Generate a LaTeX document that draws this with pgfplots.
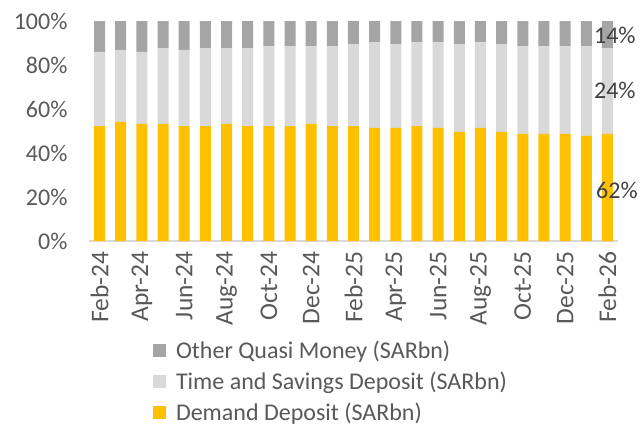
\documentclass[border=0pt]{standalone}
\usepackage{pgfplots}
\pgfplotsset{compat=1.18}
\usepackage{fontspec}
\setmainfont{Carlito}
\definecolor{dd}{HTML}{FFC000}
\definecolor{ts}{HTML}{D9D9D9}
\definecolor{oq}{HTML}{A5A5A5}
\definecolor{tick}{HTML}{595959}
\definecolor{lab}{HTML}{404040}
\begin{document}
\begin{tikzpicture}
\path[use as bounding box] (-89pt,-185pt) rectangle (552pt,241pt);
\begin{axis}[
  scale only axis, width=529pt, height=220pt,
  ybar stacked, bar width=11pt,
  xmin=-0.5, xmax=24.5, ymin=0, ymax=100,
  xtick={0,2,...,24},
  xticklabels={Feb-24,Apr-24,Jun-24,Aug-24,Oct-24,Dec-24,Feb-25,Apr-25,Jun-25,Aug-25,Oct-25,Dec-25,Feb-26},
  x tick label style={rotate=90, anchor=east, font=\fontsize{25.5}{28}\selectfont, text=tick, xshift=-7pt},
  ytick={0,20,...,100},
  yticklabel={\pgfmathprintnumber{\tick}\%},
  y tick label style={font=\fontsize{24}{27}\selectfont, text=tick},
  /pgf/number format/assume math mode=true,
  axis y line*=left,
  y axis line style={draw=none},
  axis x line*=bottom,
  x axis line style={draw=ts, line width=1.5pt, -},
  major tick length=0pt,
  xtick style={draw=none}, ytick style={draw=none},
  yticklabel style={xshift=-18pt},
  reverse legend,
  legend style={at={(0.115,-0.436)}, anchor=north west, draw=none,
    font=\fontsize{24}{27}\selectfont, text=tick, row sep=8pt,
    /tikz/every even column/.append style={column sep=4pt}},
  legend cell align=left,
  legend image code/.code={\fill[#1] (0pt,-6pt) rectangle (13pt,7pt);},
  clip=false,
]
\addplot+[fill=dd, draw=none] coordinates {
(0,52.2)(1,54.1)(2,53.2)(3,53.2)(4,52.2)(5,52.2)(6,53.2)(7,52.2)(8,52.2)(9,52.2)(10,53.2)(11,52.2)(12,52.2)
(13,51.4)(14,51.4)(15,52.2)(16,51.4)(17,49.6)(18,51.4)(19,49.6)(20,48.7)(21,48.7)(22,48.7)(23,47.8)(24,48.7)};
\addlegendentry{\hspace{8pt}Demand Deposit (SARbn)}
\addplot+[fill=ts, draw=none] coordinates {
(0,33.8)(1,32.8)(2,32.8)(3,34.4)(4,34.7)(5,35.4)(6,34.4)(7,35.4)(8,36.3)(9,36.3)(10,35.3)(11,36.3)(12,37.2)
(13,38.9)(14,38.0)(15,38.1)(16,38.9)(17,39.8)(18,38.9)(19,39.8)(20,39.8)(21,39.8)(22,39.8)(23,40.7)(24,38.9)};
\addlegendentry{\hspace{8pt}Time and Savings Deposit (SARbn)}
\addplot+[fill=oq, draw=none] coordinates {
(0,14.0)(1,13.1)(2,14.0)(3,12.4)(4,13.1)(5,12.4)(6,12.4)(7,12.4)(8,11.5)(9,11.5)(10,11.5)(11,11.5)(12,10.6)
(13,9.7)(14,10.6)(15,9.7)(16,9.7)(17,10.6)(18,9.7)(19,10.6)(20,11.5)(21,11.5)(22,11.5)(23,11.5)(24,12.4)};
\addlegendentry{\hspace{8pt}Other Quasi Money (SARbn)}
\coordinate (l1) at (axis cs:24.35,93.6);
\coordinate (l2) at (axis cs:24.35,68.6);
\coordinate (l3) at (axis cs:24.45,23);
\end{axis}
\node[text=lab, font=\fontsize{24}{27}\selectfont] at (l1) {14\%};
\node[text=lab, font=\fontsize{24}{27}\selectfont] at (l2) {24\%};
\node[text=lab, font=\fontsize{24}{27}\selectfont] at (l3) {62\%};
\end{tikzpicture}
\end{document}
